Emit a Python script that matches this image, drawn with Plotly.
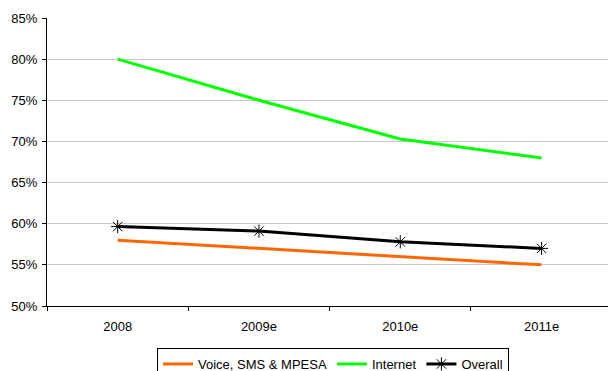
import plotly.graph_objects as go

categories = ["2008", "2009e", "2010e", "2011e"]
voice = [0.58, 0.570, 0.560, 0.550]
internet = [0.80, 0.750, 0.703, 0.680]
overall = [0.5965, 0.591, 0.578, 0.570]
y_ticks = [0.50, 0.55, 0.60, 0.65, 0.70, 0.75, 0.80, 0.85]

font = "Liberation Sans, Arial, sans-serif"

fig = go.Figure()
fig.add_trace(go.Scatter(x=categories, y=voice, mode="lines", name="Voice, SMS & MPESA",
                         line=dict(color="#FF6600", width=3)))
fig.add_trace(go.Scatter(x=categories, y=internet, mode="lines", name="Internet",
                         line=dict(color="#00FF00", width=3)))
fig.add_trace(go.Scatter(x=categories, y=overall, mode="lines+markers", name="Overall",
                         line=dict(color="#000000", width=3),
                         marker=dict(symbol="asterisk-open", size=11, color="#000000",
                                     line=dict(color="#000000", width=1))))

fig.update_layout(
    width=608, height=371,
    margin=dict(l=47, r=0, t=18, b=65, autoexpand=False),
    paper_bgcolor="white", plot_bgcolor="white",
    font=dict(family=font, size=13, color="#000000"),
    showlegend=True,
    legend=dict(orientation="h", x=157 / 608, xanchor="left", xref="container",
                y=1 - 348 / 371, yanchor="top", yref="container",
                bordercolor="#000000", borderwidth=1, font=dict(size=13),
                itemwidth=30, tracegroupgap=0),
    xaxis=dict(type="category", range=[-0.5, 3.47], showline=True, linecolor="#000000",
               linewidth=1, ticks="outside", tickson="boundaries", ticklen=4,
               tickcolor="#000000", showgrid=False, zeroline=False,
               ticklabelstandoff=8, automargin=False),
    yaxis=dict(range=[0.50, 0.85], tickvals=y_ticks, tickformat=".0%", showline=True,
               linecolor="#000000", linewidth=1, ticks="outside", ticklen=4,
               tickcolor="#000000", showgrid=True, gridcolor="#C8C8C8", gridwidth=1,
               zeroline=False, ticklabelstandoff=2, automargin=False),
)

fig.write_html("out.html")
